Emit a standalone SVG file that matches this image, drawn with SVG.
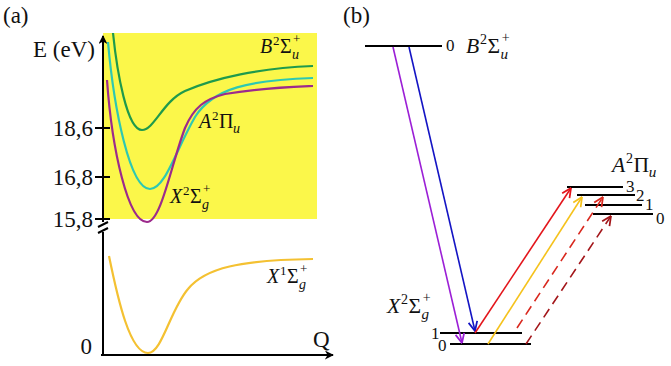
<svg xmlns="http://www.w3.org/2000/svg" width="671" height="366" viewBox="0 0 671 366" font-family="'Liberation Serif', 'DejaVu Serif', serif">
<style>
text{font-family:'Liberation Serif','DejaVu Serif',serif;fill:#111}
.lab{font-size:23px}
.mi{font-size:20px;font-style:italic}
.m{font-size:20px}
.sup{font-size:13px}
.subi{font-size:14px;font-style:italic}
.num{font-size:17px}
.ax{stroke:#000;stroke-width:2;fill:none}
.lvl{stroke:#000;stroke-width:2}
.crv{fill:none;stroke-width:2.2}
.arr{stroke-width:1.6;fill:none}
.dash{stroke-dasharray:10 6}
</style>
<defs>
<marker id="mk" viewBox="0 0 10 10" refX="9" refY="5" markerWidth="9" markerHeight="9" markerUnits="userSpaceOnUse" orient="auto"><path d="M0,0 L10,5 L0,10 L3,5 Z" fill="#000"/></marker>
<marker id="mPu" viewBox="0 0 10 10" refX="9.5" refY="5" markerWidth="11" markerHeight="11" markerUnits="userSpaceOnUse" orient="auto"><path d="M1,1 L9.5,5 L1,9" fill="none" stroke="#9b1fd6" stroke-width="1.6"/></marker>
<marker id="mBl" viewBox="0 0 10 10" refX="9.5" refY="5" markerWidth="11" markerHeight="11" markerUnits="userSpaceOnUse" orient="auto"><path d="M1,1 L9.5,5 L1,9" fill="none" stroke="#1414c4" stroke-width="1.6"/></marker>
<marker id="mRd" viewBox="0 0 10 10" refX="9.5" refY="5" markerWidth="11" markerHeight="11" markerUnits="userSpaceOnUse" orient="auto"><path d="M1,1 L9.5,5 L1,9" fill="none" stroke="#e3151b" stroke-width="1.6"/></marker>
<marker id="mYe" viewBox="0 0 10 10" refX="9.5" refY="5" markerWidth="11" markerHeight="11" markerUnits="userSpaceOnUse" orient="auto"><path d="M1,1 L9.5,5 L1,9" fill="none" stroke="#f5c21c" stroke-width="1.6"/></marker>
<marker id="mRd2" viewBox="0 0 10 10" refX="9.5" refY="5" markerWidth="11" markerHeight="11" markerUnits="userSpaceOnUse" orient="auto"><path d="M1,1 L9.5,5 L1,9" fill="none" stroke="#d9281e" stroke-width="1.6"/></marker>
<marker id="mDr" viewBox="0 0 10 10" refX="9.5" refY="5" markerWidth="11" markerHeight="11" markerUnits="userSpaceOnUse" orient="auto"><path d="M1,1 L9.5,5 L1,9" fill="none" stroke="#a3161a" stroke-width="1.6"/></marker>
</defs>

<!-- Panel (a) -->
<g id="panel-a">
<text x="3" y="23" class="lab">(a)</text>
<rect id="yellow-bg" x="103" y="33" width="214" height="186" fill="#fbf74a"/>
<g id="axes">
<line x1="103" y1="222" x2="103" y2="36" class="ax" marker-end="url(#mk)"/>
<line x1="103" y1="232" x2="103" y2="355" class="ax"/>
<line x1="101" y1="355" x2="333" y2="355" class="ax" marker-end="url(#mk)"/>
<line x1="95" y1="128" x2="110" y2="128" class="ax"/>
<line x1="95" y1="177" x2="110" y2="177" class="ax"/>
<line x1="95" y1="219" x2="110" y2="219" class="ax"/>
<line x1="98" y1="227" x2="108" y2="222" class="ax" stroke-width="1.6"/>
<line x1="98" y1="233" x2="108" y2="228" class="ax" stroke-width="1.6"/>
</g>
<text x="33" y="57" class="lab">E (eV)</text>
<text x="93" y="136" class="lab" text-anchor="end">18,6</text>
<text x="93" y="185" class="lab" text-anchor="end">16,8</text>
<text x="93" y="227" class="lab" text-anchor="end">15,8</text>
<text x="92" y="354" class="lab" text-anchor="end">0</text>
<text x="313" y="347" class="lab">Q</text>

<g id="curve-B">
<path class="crv" stroke="#1f9a4c" d="M113,33 C117,72 127,130 142,130 C154,130 163,101 185,91 C215,78 260,68 313,66"/>
</g>
<g id="curve-A">
<path class="crv" stroke="#2ec8b2" d="M108,42 C114,110 130,189 150,189 C165,189 176,150 195,117 C213,88 250,80 313,78"/>
</g>
<g id="curve-X2">
<path class="crv" stroke="#9c2a8c" d="M107,80 C112,150 128,222 147,222 C161,222 171,165 185,128 C194,107 205,99 225,94 C260,88 290,87 313,86"/>
</g>
<g id="curve-X1">
<path class="crv" stroke="#f4c132" d="M109,256 C118,300 130,353 148,353 C162,353 170,310 188,289 C205,268 240,260 313,259"/>
</g>

<g id="label-B-a">
<text x="260" y="53" class="mi">B</text>
<text x="273" y="45" class="sup">2</text>
<text x="280" y="53" class="m">Σ</text>
<text x="292" y="59" class="subi">u</text>
<text x="293" y="43" class="sup">+</text>
</g>
<g id="label-A-a">
<text x="199" y="128" class="mi">A</text>
<text x="212" y="120" class="sup">2</text>
<text x="219" y="128" class="m">Π</text>
<text x="233" y="133" class="subi">u</text>
</g>
<g id="label-X2-a">
<text x="170" y="203" class="mi">X</text>
<text x="183" y="195" class="sup">2</text>
<text x="190" y="203" class="m">Σ</text>
<text x="202" y="209" class="subi">g</text>
<text x="203" y="193" class="sup">+</text>
</g>
<g id="label-X1-a">
<text x="267" y="283" class="mi">X</text>
<text x="280" y="275" class="sup">1</text>
<text x="287" y="283" class="m">Σ</text>
<text x="299" y="289" class="subi">g</text>
<text x="300" y="273" class="sup">+</text>
</g>
</g>

<!-- Panel (b) -->
<g id="panel-b">
<text x="343" y="23" class="lab">(b)</text>
<g id="level-B0">
<line x1="365" y1="46" x2="442" y2="46" class="lvl"/>
<text x="446" y="51" class="num">0</text>
</g>
<g id="label-B-b" transform="translate(466,53) scale(1.08) translate(-466,-53)">
<text x="466" y="53" class="mi">B</text>
<text x="479" y="45" class="sup">2</text>
<text x="486" y="53" class="m">Σ</text>
<text x="498" y="59" class="subi">u</text>
<text x="499" y="43" class="sup">+</text>
</g>
<g id="level-X1">
<line x1="440" y1="333" x2="522" y2="333" class="lvl"/>
<text x="431" y="339" class="num">1</text>
</g>
<g id="level-X0">
<line x1="450" y1="344" x2="531" y2="344" class="lvl"/>
<text x="438" y="351" class="num">0</text>
</g>
<g id="label-X2-b" transform="translate(387,313) scale(1.08) translate(-387,-313)">
<text x="387" y="313" class="mi">X</text>
<text x="400" y="305" class="sup">2</text>
<text x="407" y="313" class="m">Σ</text>
<text x="419" y="319" class="subi">g</text>
<text x="420" y="303" class="sup">+</text>
</g>
<g id="level-A3">
<line x1="567" y1="187" x2="623" y2="187" class="lvl"/>
<text x="626" y="192" class="num">3</text>
</g>
<g id="level-A2">
<line x1="577" y1="195" x2="635" y2="195" class="lvl"/>
<text x="636" y="201" class="num">2</text>
</g>
<g id="level-A1">
<line x1="585" y1="205" x2="642" y2="205" class="lvl"/>
<text x="645" y="210" class="num">1</text>
</g>
<g id="level-A0">
<line x1="593" y1="214" x2="653" y2="214" class="lvl"/>
<text x="656" y="224" class="num">0</text>
</g>
<g id="label-A-b" transform="translate(612,172) scale(1.08) translate(-612,-172)">
<text x="612" y="172" class="mi">A</text>
<text x="625" y="164" class="sup">2</text>
<text x="632" y="172" class="m">Π</text>
<text x="646" y="177" class="subi">u</text>
</g>
</g>

<g id="connectors">
<line x1="393" y1="47" x2="462" y2="343" class="arr" stroke="#9b1fd6" marker-end="url(#mPu)"/>
<line x1="409" y1="47" x2="475" y2="331" class="arr" stroke="#1414c4" marker-end="url(#mBl)"/>
<line x1="475" y1="333" x2="571" y2="188" class="arr" stroke="#e3151b" marker-end="url(#mRd)"/>
<line x1="488" y1="344" x2="582" y2="197" class="arr" stroke="#f5c21c" marker-end="url(#mYe)"/>
<line x1="517" y1="328" x2="603" y2="197" class="arr dash" stroke="#d9281e" marker-end="url(#mRd2)"/>
<line x1="526" y1="344" x2="611" y2="216" class="arr dash" stroke="#a3161a" marker-end="url(#mDr)"/>
</g>
</svg>
